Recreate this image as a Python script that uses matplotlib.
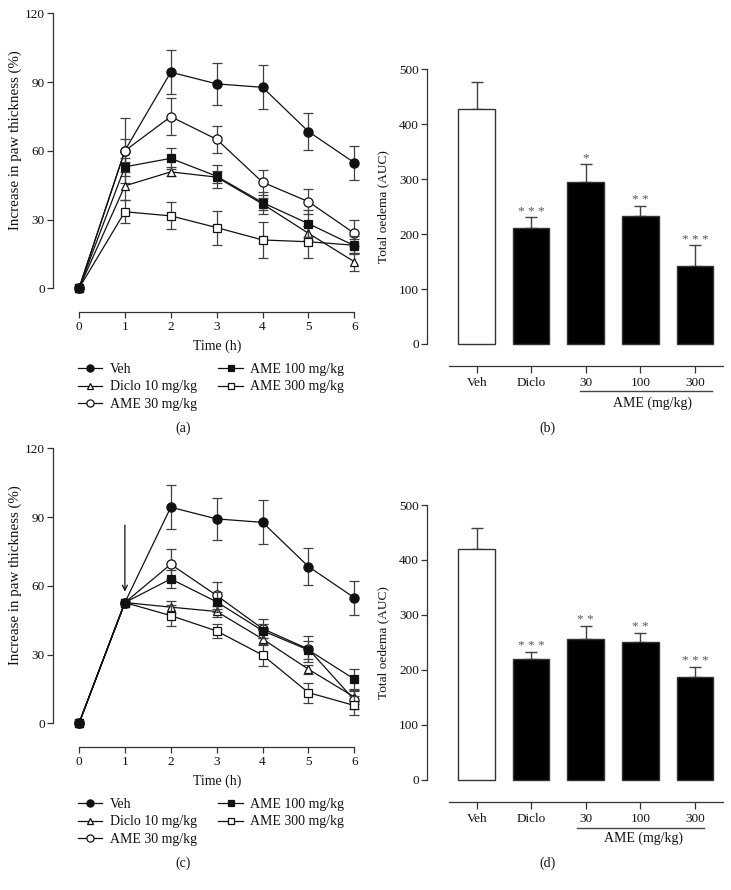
import matplotlib
matplotlib.use('Agg')
import matplotlib.pyplot as plt

plt.rcParams['font.family'] = ['Liberation Serif', 'DejaVu Serif']
plt.rcParams['font.size'] = 9

# Time course (h)
hours = [0, 1, 2, 3, 4, 5, 6]
group_names = ['Veh', 'Diclo 10 mg/kg', 'AME 30 mg/kg', 'AME 100 mg/kg', 'AME 300 mg/kg']

# Panel (a): increase in paw thickness (%), mean and s.e.m.
veh_a = [0, 60.1, 94.3, 89.2, 87.7, 68.4, 54.8]
veh_a_err = [0, 14.0, 9.5, 9.3, 9.6, 8.1, 7.4]
diclo_a = [0, 44.7, 50.8, 48.5, 36.8, 24.0, 11.6]
diclo_a_err = [0, 6.2, 2.0, 2.5, 2.5, 3.0, 4.0]
ame30_a = [0, 60.0, 74.9, 65.0, 46.3, 37.8, 24.0]
ame30_a_err = [0, 5.0, 8.0, 6.0, 5.5, 5.4, 5.6]
ame100_a = [0, 53.0, 56.7, 48.9, 37.4, 28.2, 18.6]
ame100_a_err = [0, 4.0, 4.5, 5.0, 4.8, 5.8, 3.0]
ame300_a = [0, 33.4, 31.6, 26.5, 21.1, 20.3, 18.8]
ame300_a_err = [0, 5.0, 5.9, 7.4, 7.8, 7.0, 4.0]

# Panel (c): same measure, treatment given at 1 h
veh_c = [0, 52.7, 94.3, 89.2, 87.7, 68.4, 54.8]
veh_c_err = [0, 0, 9.5, 9.3, 9.6, 8.1, 7.4]
diclo_c = [0, 52.7, 50.7, 48.8, 36.8, 23.6, 11.5]
diclo_c_err = [0, 0, 2.5, 2.5, 2.5, 2.0, 3.0]
ame30_c = [0, 52.7, 69.4, 55.8, 41.3, 32.4, 10.2]
ame30_c_err = [0, 0, 6.5, 5.8, 4.2, 5.5, 4.0]
ame100_c = [0, 52.7, 63.0, 53.0, 40.4, 32.0, 19.3]
ame100_c_err = [0, 0, 4.0, 4.5, 3.0, 4.0, 4.4]
ame300_c = [0, 52.7, 47.0, 40.3, 29.8, 13.4, 7.8]
ame300_c_err = [0, 0, 4.7, 3.0, 5.0, 4.4, 4.0]

# Panels (b) and (d): total oedema (AUC)
bar_labels = ['Veh', 'Diclo', '30', '100', '300']
auc_b = [427, 211, 295.5, 232.5, 142.5]
auc_b_err = [49, 19.5, 31.5, 19, 37]
stars_b = ['', '* * *', '*', '* *', '* * *']
auc_d = [420, 219.5, 256, 251, 186.5]
auc_d_err = [37.5, 13.5, 24, 16.5, 18.5]
stars_d = ['', '* * *', '* *', '* *', '* * *']

INK = '#111111'
ERR = '#404040'

# marker style per group: (marker, face, size)
styles = [('o', INK, 6.6), ('^', 'white', 6.4), ('o', 'white', 6.6),
          ('s', INK, 6.2), ('s', 'white', 6.2)]


def clean_axes(ax):
    for side in ['top', 'right']:
        ax.spines[side].set_visible(False)
    for side in ['left', 'bottom']:
        ax.spines[side].set_color('#333333')
        ax.spines[side].set_linewidth(0.9)
    ax.tick_params(direction='out', length=4, width=0.9, color='#333333',
                   labelcolor=INK, labelsize=9.5, pad=2)


""" Time course of paw thickness with error bars """
def time_course(rect, series, errors, legend_top, arrow=False):
    ax = fig.add_axes(rect)
    order_z = [3, 4, 5, 7, 6]  # filled square ends on top
    handles = []
    for k in range(len(series)):
        marker, face, ms = styles[k]
        cont = ax.errorbar(hours, series[k], yerr=errors[k], color=INK, ecolor=ERR,
                           elinewidth=0.9, capsize=3.5, capthick=0.9, lw=0.9,
                           marker=marker, mfc=face, mec=INK, mew=0.9, ms=ms,
                           label=group_names[k], zorder=order_z[k])
        handles.append(cont[0])
    ax.set_xlim(-0.56, 6.15)
    ax.set_ylim(-10.2, 123)
    ax.set_xticks(hours)
    ax.set_yticks([0, 30, 60, 90, 120])
    clean_axes(ax)
    ax.spines['left'].set_bounds(0, 120)
    ax.spines['bottom'].set_bounds(0, 6)
    ax.tick_params(axis='x', pad=3)
    ax.set_xlabel('Time (h)', fontsize=10, color=INK, va='center')
    ax.xaxis.set_label_coords(0.531, -0.1146)
    ax.set_ylabel('Increase in paw thickness (%)', fontsize=10.8, color=INK, va='center')
    ax.yaxis.set_label_coords(-0.124, 0.562)
    if arrow:
        ax.annotate('', xy=(1, 57.5), xytext=(1, 86.5),
                    arrowprops=dict(arrowstyle='->', lw=0.9, color=INK,
                                    shrinkA=0, shrinkB=0))
    ax.legend(handles=handles, labels=group_names, loc='upper left',
              bbox_to_anchor=(78 / 731, legend_top),
              bbox_transform=fig.transFigure, ncol=2, frameon=False,
              fontsize=10, handlelength=1.75, handletextpad=0.55, markerscale=0.78,
              columnspacing=1.55, labelspacing=0.32, borderpad=0, borderaxespad=0,
              labelcolor=INK)
    return ax


""" Bar chart of total oedema with significance stars """
def auc_bars(rect, values, errors, stars, line_x, line_y, name_pos):
    ax = fig.add_axes(rect)
    pos = list(range(len(values)))
    faces = ['white'] + ['black'] * (len(values) - 1)
    ax.bar(pos, values, width=0.67, color=faces, edgecolor='#333333', lw=1.0, zorder=2)
    ax.errorbar(pos, values, yerr=[[0] * len(values), errors], fmt='none',
                ecolor=ERR, elinewidth=1.0, capsize=4, capthick=1.0, zorder=1)
    for i in pos:
        if stars[i]:
            ax.annotate(stars[i], xy=(i, values[i] + errors[i]), xytext=(0, 2.0),
                        textcoords='offset points', ha='center', va='baseline',
                        fontsize=9.5, color='#555555')
    ax.set_xlim(-0.905, 4.51)
    ax.set_ylim(-40, 510)
    ax.set_xticks(pos)
    ax.set_xticklabels(bar_labels)
    ax.set_yticks([0, 100, 200, 300, 400, 500])
    clean_axes(ax)
    ax.spines['left'].set_bounds(0, 500)
    ax.spines['bottom'].set_bounds(-0.51, 4.51)
    ax.tick_params(axis='x', length=5, pad=3)
    ax.set_ylabel('Total oedema (AUC)', fontsize=9.6, color=INK, va='center')
    ax.yaxis.set_label_coords(-0.149, 0.526)
    # dose group underline and caption
    ax.plot(line_x, [line_y, line_y], color='#444444', lw=1.0, clip_on=False)
    ax.text(name_pos[0], name_pos[1], 'AME (mg/kg)', ha='center', va='center',
            fontsize=10, color=INK, clip_on=False)
    return ax


fig = plt.figure(figsize=(7.31, 8.9), dpi=100)

time_course([53.3 / 731, 0.6498, 307.9 / 731, 0.343],
            [veh_a, diclo_a, ame30_a, ame100_a, ame300_a],
            [veh_a_err, diclo_a_err, ame30_a_err, ame100_a_err, ame300_a_err],
            1 - 363 / 890)
time_course([53.3 / 731, 0.161, 307.9 / 731, 0.343],
            [veh_c, diclo_c, ame30_c, ame100_c, ame300_c],
            [veh_c_err, diclo_c_err, ame30_c_err, ame100_c_err, ame300_c_err],
            1 - 798 / 890, arrow=True)

auc_bars([427.3 / 731, 0.5888, 295.4 / 731, 0.3395], auc_b, auc_b_err, stars_b,
         [1.89, 4.32], -85, (3.23, -107))
auc_bars([427.3 / 731, 0.0992, 295.4 / 731, 0.3395], auc_d, auc_d_err, stars_d,
         [1.84, 4.17], -87.6, (3.05, -106))

# panel letters
for x, y, s in [(183, 428, '(a)'), (547, 428, '(b)'), (183, 863, '(c)'), (547, 863, '(d)')]:
    fig.text(x / 731, 1 - y / 890, s, ha='center', va='center', fontsize=10, color=INK)

plt.savefig('out.png', dpi=100)
plt.close()
